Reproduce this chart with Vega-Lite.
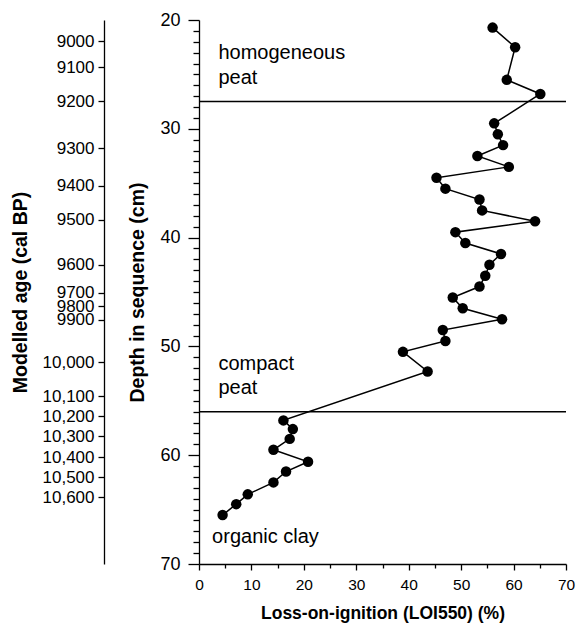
{
  "$schema": "https://vega.github.io/schema/vega-lite/v6.json",
  "width": 367,
  "height": 544,
  "autosize": "none",
  "padding": {"left": 199, "top": 20, "right": 10, "bottom": 59},
  "config": {
    "font": "Liberation Sans",
    "view": {"stroke": null},
    "axis": {"grid": false, "domainColor": "black", "tickColor": "black", "labelColor": "black", "titleColor": "black", "domainWidth": 1.3, "tickWidth": 1.3, "labelOverlap": false}
  },
  "layer": [
    {
      "layer": [
        {
          "data": {"values": [{"depth": 27.5}, {"depth": 56}]},
          "mark": {"type": "rule", "color": "black", "strokeWidth": 1.5},
          "encoding": {
            "y": {"field": "depth", "type": "quantitative", "scale": {"domain": [20, 70], "reverse": true, "nice": false},
              "axis": {"values": [20,21,22,23,24,25,26,27,28,29,30,31,32,33,34,35,36,37,38,39,40,41,42,43,44,45,46,47,48,49,50,51,52,53,54,55,56,57,58,59,60,61,62,63,64,65,66,67,68,69,70],
                "tickCount": 200,
                "labelExpr": "datum.value % 10 === 0 ? format(datum.value, 'd') : ''",
                "labelOverlap": false, "labelBound": false, "labelFlush": false,
                "tickSize": {"condition": {"test": "datum.value % 10 === 0", "value": 11}, "value": 6},
                "labelFontSize": 18, "labelPadding": 8,
                "title": "Depth in sequence (cm)", "titleFontSize": 19.5, "titleFontWeight": "bold", "titlePadding": 12}}
          }
        },
        {
          "data": {"values": [
            {"LOI": 56.0, "depth": 20.7}, {"LOI": 60.3, "depth": 22.5}, {"LOI": 58.7, "depth": 25.5}, {"LOI": 65.1, "depth": 26.8},
            {"LOI": 56.3, "depth": 29.5}, {"LOI": 57.0, "depth": 30.5}, {"LOI": 58.0, "depth": 31.5}, {"LOI": 53.1, "depth": 32.5},
            {"LOI": 59.1, "depth": 33.5}, {"LOI": 45.3, "depth": 34.5}, {"LOI": 47.0, "depth": 35.5}, {"LOI": 53.5, "depth": 36.5},
            {"LOI": 54.0, "depth": 37.5}, {"LOI": 64.1, "depth": 38.5}, {"LOI": 48.9, "depth": 39.5}, {"LOI": 50.8, "depth": 40.5},
            {"LOI": 57.6, "depth": 41.5}, {"LOI": 55.4, "depth": 42.5}, {"LOI": 54.6, "depth": 43.5}, {"LOI": 53.5, "depth": 44.5},
            {"LOI": 48.4, "depth": 45.5}, {"LOI": 50.3, "depth": 46.5}, {"LOI": 57.8, "depth": 47.5}, {"LOI": 46.5, "depth": 48.5},
            {"LOI": 47.0, "depth": 49.5}, {"LOI": 38.9, "depth": 50.5}, {"LOI": 43.6, "depth": 52.3}, {"LOI": 16.1, "depth": 56.8},
            {"LOI": 17.9, "depth": 57.6}, {"LOI": 17.3, "depth": 58.5}, {"LOI": 14.2, "depth": 59.5}, {"LOI": 20.8, "depth": 60.6},
            {"LOI": 16.6, "depth": 61.5}, {"LOI": 14.2, "depth": 62.5}, {"LOI": 9.3, "depth": 63.6}, {"LOI": 7.1, "depth": 64.5},
            {"LOI": 4.5, "depth": 65.5}
          ]},
          "layer": [
            {
              "mark": {"type": "line", "color": "black", "strokeWidth": 1.5},
              "encoding": {
                "x": {"field": "LOI", "type": "quantitative", "scale": {"domain": [0, 70], "nice": false},
                  "axis": {"values": [0, 5, 10, 15, 20, 25, 30, 35, 40, 45, 50, 55, 60, 65, 70],
                    "tickCount": 200,
                    "labelExpr": "datum.value % 10 === 0 ? format(datum.value, 'd') : ''",
                    "labelOverlap": false, "labelBound": false, "labelFlush": false,
                    "tickSize": {"condition": {"test": "datum.value % 10 === 0", "value": 6}, "value": 4},
                    "labelFontSize": 15.5, "labelPadding": 7,
                    "title": "Loss-on-ignition (LOI550) (%)", "titleFontSize": 17.5, "titleFontWeight": "bold", "titlePadding": 12}},
                "y": {"field": "depth", "type": "quantitative"},
                "order": {"field": "depth", "type": "quantitative"}
              }
            },
            {
              "mark": {"type": "point", "filled": true, "color": "black", "opacity": 1, "size": 110},
              "encoding": {
                "x": {"field": "LOI", "type": "quantitative"},
                "y": {"field": "depth", "type": "quantitative"}
              }
            }
          ]
        },
        {
          "data": {"values": [
            {"LOI": 3.7, "depth": 23.0, "label": "homogeneous"},
            {"LOI": 3.7, "depth": 25.3, "label": "peat"},
            {"LOI": 3.7, "depth": 51.6, "label": "compact"},
            {"LOI": 3.7, "depth": 53.8, "label": "peat"},
            {"LOI": 2.5, "depth": 67.55, "label": "organic clay"}
          ]},
          "mark": {"type": "text", "align": "left", "baseline": "middle", "fontSize": 20, "color": "black"},
          "encoding": {
            "x": {"field": "LOI", "type": "quantitative"},
            "y": {"field": "depth", "type": "quantitative"},
            "text": {"field": "label"}
          }
        }
      ]
    },
    {
      "data": {"values": [
        {"depth": 21.97, "age": "9000"}, {"depth": 24.36, "age": "9100"}, {"depth": 27.48, "age": "9200"},
        {"depth": 31.77, "age": "9300"}, {"depth": 35.23, "age": "9400"}, {"depth": 38.35, "age": "9500"},
        {"depth": 42.49, "age": "9600"}, {"depth": 45.09, "age": "9700"}, {"depth": 46.3, "age": "9800"},
        {"depth": 47.55, "age": "9900"}, {"depth": 51.47, "age": "10,000"}, {"depth": 54.6, "age": "10,100"},
        {"depth": 56.43, "age": "10,200"}, {"depth": 58.27, "age": "10,300"}, {"depth": 60.17, "age": "10,400"},
        {"depth": 62.04, "age": "10,500"}, {"depth": 63.88, "age": "10,600"}
      ]},
      "mark": {"type": "point", "opacity": 0},
      "encoding": {
        "y": {"field": "depth", "type": "quantitative", "scale": {"domain": [20, 70], "reverse": true, "nice": false},
          "axis": {"orient": "left", "offset": 95,
            "values": [21.97, 24.36, 27.48, 31.77, 35.23, 38.35, 42.49, 45.09, 46.3, 47.55, 51.47, 54.6, 56.43, 58.27, 60.17, 62.04, 63.88],
            "tickCount": 200,
            "labelExpr": "['9000','9100','9200','9300','9400','9500','9600','9700','9800','9900','10,000','10,100','10,200','10,300','10,400','10,500','10,600'][indexof([21.97, 24.36, 27.48, 31.77, 35.23, 38.35, 42.49, 45.09, 46.3, 47.55, 51.47, 54.6, 56.43, 58.27, 60.17, 62.04, 63.88], datum.value)]",
            "labelOverlap": false, "labelBound": false,
            "tickSize": 6, "labelFontSize": 17, "labelPadding": 4,
            "title": "Modelled age (cal BP)", "titleFontSize": 19.5, "titleFontWeight": "bold", "titlePadding": 12}}
      }
    }
  ],
  "resolve": {"scale": {"y": "independent"}, "axis": {"y": "independent"}}
}
